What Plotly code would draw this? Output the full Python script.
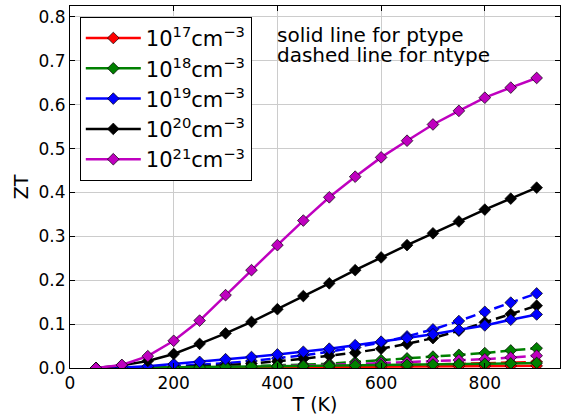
import plotly.graph_objects as go

T = [50, 100, 150, 200, 250, 300, 350, 400, 450, 500, 550, 600, 650, 700, 750, 800, 850, 900]

labels = ["10<sup>17</sup>cm<sup>−3</sup>", "10<sup>18</sup>cm<sup>−3</sup>",
          "10<sup>19</sup>cm<sup>−3</sup>", "10<sup>20</sup>cm<sup>−3</sup>",
          "10<sup>21</sup>cm<sup>−3</sup>"]
colors = ["#ff0000", "#008000", "#0000ff", "#000000", "#bf00bf"]

# p-type (solid)
p_1e17 = [0.0, 0.0, 0.0, 0.0005, 0.0008, 0.001, 0.0013, 0.0016, 0.002, 0.0023, 0.0026, 0.003, 0.0033, 0.0036, 0.004, 0.0043, 0.0046, 0.005]
p_1e18 = [0.0, 0.0003, 0.0008, 0.0015, 0.002, 0.0028, 0.0035, 0.004, 0.0047, 0.0053, 0.006, 0.0067, 0.0073, 0.008, 0.0088, 0.0096, 0.0105, 0.0115]
p_1e19 = [0.0, 0.001, 0.004, 0.009, 0.014, 0.020, 0.025, 0.031, 0.037, 0.044, 0.052, 0.060, 0.068, 0.077, 0.087, 0.097, 0.110, 0.122]
p_1e20 = [0.0, 0.006, 0.016, 0.032, 0.055, 0.079, 0.105, 0.134, 0.164, 0.193, 0.223, 0.252, 0.280, 0.307, 0.334, 0.361, 0.386, 0.411]
p_1e21 = [0.0, 0.007, 0.027, 0.062, 0.108, 0.166, 0.223, 0.280, 0.336, 0.389, 0.436, 0.480, 0.518, 0.555, 0.586, 0.616, 0.639, 0.661]

# n-type (dashed)
n_1e17 = [0.0, 0.0, 0.0003, 0.0006, 0.001, 0.0015, 0.002, 0.0026, 0.0033, 0.004, 0.005, 0.006, 0.007, 0.008, 0.0093, 0.0107, 0.012, 0.014]
n_1e18 = [0.0, 0.0, 0.0005, 0.001, 0.002, 0.003, 0.004, 0.0055, 0.0075, 0.0098, 0.0135, 0.018, 0.022, 0.026, 0.030, 0.034, 0.040, 0.045]
n_1e19 = [0.0, 0.0005, 0.002, 0.004, 0.007, 0.011, 0.016, 0.022, 0.029, 0.037, 0.047, 0.058, 0.072, 0.088, 0.107, 0.128, 0.149, 0.170]
n_1e20 = [0.0, 0.0, 0.001, 0.002, 0.004, 0.006, 0.010, 0.015, 0.021, 0.028, 0.035, 0.044, 0.055, 0.068, 0.085, 0.104, 0.123, 0.142]
n_1e21 = [0.0, 0.0, 0.0003, 0.0007, 0.0012, 0.002, 0.003, 0.004, 0.0055, 0.007, 0.009, 0.011, 0.013, 0.016, 0.018, 0.020, 0.024, 0.028]

ptype = [p_1e17, p_1e18, p_1e19, p_1e20, p_1e21]
ntype = [n_1e17, n_1e18, n_1e19, n_1e20, n_1e21]

fig = go.Figure()
for i in range(5):
    fig.add_trace(go.Scatter(
        x=T, y=ntype[i], mode="lines+markers", showlegend=False,
        line=dict(color=colors[i], width=2.5, dash="10px,5px"),
        marker=dict(symbol="diamond", size=9, color=colors[i], line=dict(color="black", width=0.7)),
    ))
for i in range(5):
    fig.add_trace(go.Scatter(
        x=T, y=ptype[i], mode="lines+markers", name=labels[i], legendgroup=str(i),
        line=dict(color=colors[i], width=2.5),
        marker=dict(symbol="diamond", size=9, color=colors[i], line=dict(color="black", width=0.7)),
    ))

fig.add_annotation(
    x=0.418, y=0.92, xref="paper", yref="paper", xanchor="left", yanchor="middle",
    text="solid line for ptype", showarrow=False, align="left",
    font=dict(family="DejaVu Sans", size=20, color="black"),
)
fig.add_annotation(
    x=0.418, y=0.865, xref="paper", yref="paper", xanchor="left", yanchor="middle",
    text="dashed line for ntype", showarrow=False, align="left",
    font=dict(family="DejaVu Sans", size=20, color="black"),
)

axis_common = dict(
    showline=True, linecolor="black", linewidth=1, mirror="ticks",
    ticks="inside", ticklen=5, tickcolor="black",
    showgrid=True, gridcolor="#cccccc", gridwidth=1, zeroline=False,
    tickfont=dict(family="DejaVu Sans", size=17, color="black"),
    automargin=False,
)

fig.update_layout(
    width=562, height=417,
    margin=dict(l=70, r=2, t=6, b=49),
    paper_bgcolor="white", plot_bgcolor="white",
    font=dict(family="DejaVu Sans", color="black"),
    xaxis=dict(range=[0, 945], dtick=200, tick0=0,
               title=dict(text="T (K)", font=dict(size=19), standoff=2), **axis_common),
    yaxis=dict(range=[0, 0.825], dtick=0.1, tick0=0, tickformat=".1f",
               title=dict(text="ZT", font=dict(size=19), standoff=4), **axis_common),
    legend=dict(x=0.02, y=0.97, xanchor="left", yanchor="top",
                bgcolor="white", bordercolor="black", borderwidth=1,
                font=dict(family="DejaVu Sans", size=21, color="black"),
                tracegroupgap=3, traceorder="normal", itemwidth=55),
)

fig.write_html("out.html", config={"displayModeBar": False},
               post_script="document.body.style.margin='0';document.body.style.overflow='hidden';")
